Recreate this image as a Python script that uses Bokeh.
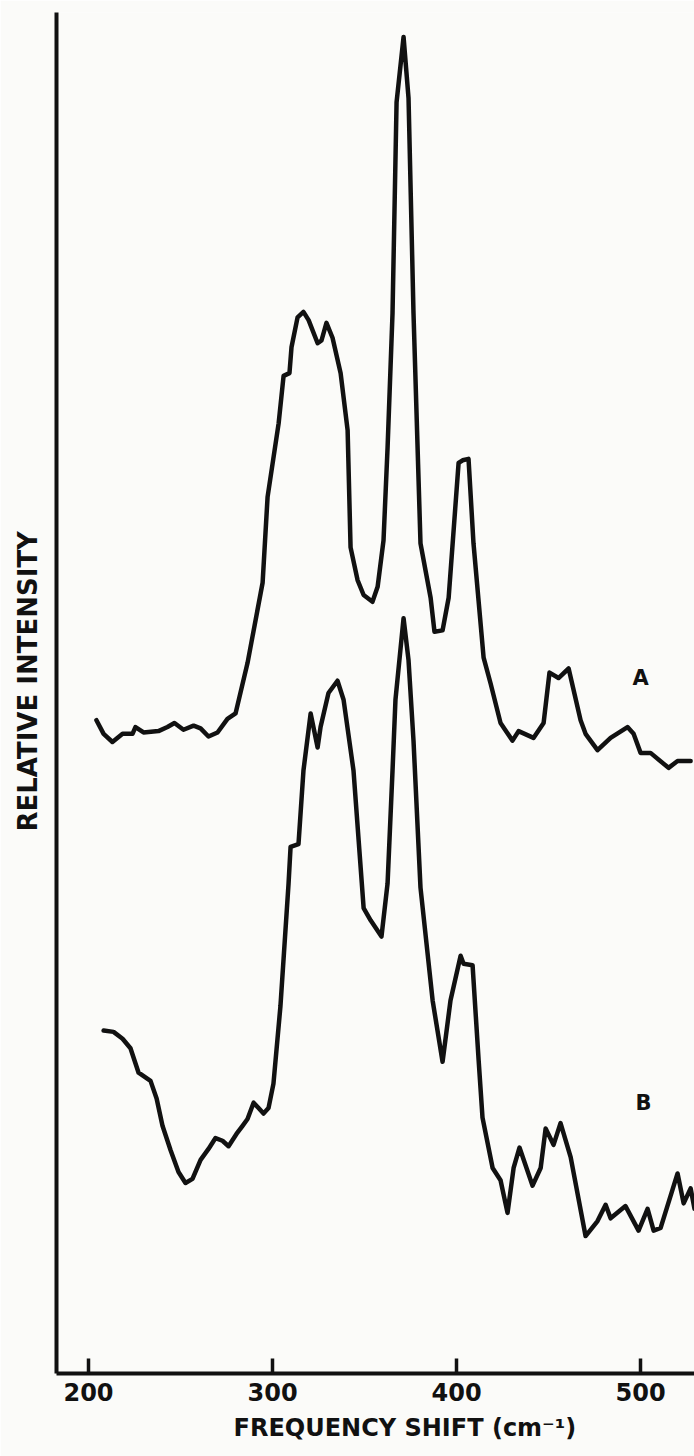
from bokeh.plotting import figure
from bokeh.models import Label, FixedTicker, Range1d, Title
from bokeh.embed import file_html
from bokeh.resources import INLINE

# ---------------- data ----------------
freq_a = [204.3, 208.2, 213.0, 218.5, 223.9, 225.5, 229.9, 238.0, 242.9, 246.7,
          251.6, 257.1, 260.9, 265.2, 270.1, 275.5, 279.9, 286.4, 294.6, 297.3,
          303.3, 306.0, 309.2, 310.3, 313.6, 316.8, 319.6, 324.5, 326.6, 329.3,
          332.6, 337.0, 340.8, 342.4, 346.2, 349.5, 354.3, 357.1, 360.3, 362.5,
          365.2, 367.4, 371.2, 373.9, 376.6, 380.4, 385.9, 388.0, 392.4, 395.7,
          401.1, 403.3, 406.5, 409.2, 414.7, 418.5, 423.9, 430.4, 433.7, 441.8,
          447.3, 450.5, 455.4, 460.9, 467.4, 470.1, 476.6, 483.7, 492.9, 496.2,
          500.0, 505.4, 515.2, 520.1, 527.2]
int_a = [48.0, 47.0, 46.4, 47.0, 47.0, 47.5, 47.1, 47.2, 47.5, 47.8,
         47.3, 47.6, 47.4, 46.8, 47.1, 48.1, 48.5, 52.2, 58.1, 64.4,
         69.8, 73.3, 73.5, 75.4, 77.6, 78.0, 77.4, 75.7, 75.9, 77.2,
         76.1, 73.5, 69.3, 60.7, 58.3, 57.2, 56.7, 57.8, 61.2, 68.0,
         77.9, 93.4, 98.2, 93.7, 77.9, 61.0, 57.0, 54.5, 54.6, 57.0,
         66.9, 67.1, 67.2, 61.0, 52.6, 50.7, 47.8, 46.5, 47.2, 46.7,
         47.8, 51.5, 51.1, 51.8, 48.0, 47.0, 45.8, 46.7, 47.5, 47.0,
         45.6, 45.6, 44.5, 45.0, 45.0]

freq_b = [208.2, 213.6, 218.5, 222.8, 227.2, 233.7, 237.0, 240.2, 244.6, 248.9,
          252.7, 256.5, 260.9, 265.2, 269.0, 272.8, 276.1, 280.4, 283.7, 286.4,
          289.7, 292.4, 295.1, 297.8, 300.5, 304.3, 308.7, 309.8, 314.1, 316.8,
          320.7, 324.5, 326.1, 330.4, 335.3, 338.6, 344.0, 349.5, 353.3, 359.2,
          362.5, 365.2, 366.8, 371.2, 373.9, 376.6, 380.4, 387.0, 392.4, 396.7,
          402.2, 403.8, 408.7, 412.0, 414.1, 419.6, 423.9, 427.7, 431.0, 434.2,
          441.3, 445.7, 448.4, 452.7, 456.5, 462.0, 470.1, 476.6, 481.0, 483.7,
          491.8, 498.9, 503.8, 507.1, 510.9, 520.1, 523.4, 527.2, 529.3]
int_b = [25.2, 25.1, 24.6, 23.9, 22.1, 21.5, 20.2, 18.2, 16.4, 14.8,
         14.0, 14.3, 15.7, 16.5, 17.3, 17.1, 16.7, 17.6, 18.2, 18.7,
         19.9, 19.5, 19.1, 19.5, 21.3, 27.0, 36.0, 38.7, 38.9, 44.3,
         48.5, 46.0, 47.5, 50.0, 50.9, 49.5, 44.3, 34.2, 33.3, 32.1,
         36.0, 44.3, 49.5, 55.5, 52.4, 46.5, 35.7, 27.4, 22.9, 27.4,
         30.7, 30.1, 30.0, 23.0, 18.8, 15.1, 14.2, 11.8, 15.1, 16.6,
         13.8, 15.1, 18.0, 16.8, 18.4, 15.9, 10.1, 11.2, 12.4, 11.4,
         12.3, 10.5, 12.1, 10.5, 10.7, 14.7, 12.5, 13.6, 12.1]

x_ticks = [200, 300, 400, 500]
series_names = ["A", "B"]
x_title = "FREQUENCY SHIFT (cm\u207b\u00b9)"
y_title = "RELATIVE INTENSITY"

# ---------------- styling / layout ----------------
FONT = "DejaVu Sans"
INK = "#111111"
PAPER = "#fbfbf9"
name_x = [500.0, 501.6]
name_y = [51.1, 19.9]

p = figure(width=694, height=1456,
           x_range=Range1d(182.6, 529.3), y_range=Range1d(0, 100),
           output_backend="svg", toolbar_location=None,
           min_border_left=56, min_border_right=0,
           min_border_top=12, min_border_bottom=83)
p.grid.visible = False
p.outline_line_color = None
p.background_fill_color = PAPER
p.border_fill_color = PAPER

p.line(freq_a, int_a, line_width=4.5, line_color=INK, line_join="round", line_cap="round")
p.line(freq_b, int_b, line_width=4.5, line_color=INK, line_join="round", line_cap="round")

# x axis
xa = p.xaxis[0]
xa.ticker = FixedTicker(ticks=x_ticks)
xa.major_tick_in = 15
xa.major_tick_out = 0
xa.minor_tick_in = 0
xa.minor_tick_out = 0
xa.major_tick_line_width = 3.5
xa.major_tick_line_color = INK
xa.axis_line_width = 4
xa.axis_line_color = INK
xa.major_label_text_font = FONT
xa.major_label_text_font_style = "bold"
xa.major_label_text_font_size = "24px"
xa.major_label_text_color = INK
xa.major_label_standoff = 9

# y axis (plain line, no ticks); its title is a side Title placed like the reference
ya = p.yaxis[0]
ya.ticker = FixedTicker(ticks=[])
ya.major_tick_in = 0
ya.major_tick_out = 0
ya.minor_tick_in = 0
ya.minor_tick_out = 0
ya.major_label_standoff = 0
ya.axis_line_width = 4
ya.axis_line_color = INK

p.add_layout(Title(text=y_title, align="left", offset=542, vertical_align="top",
                   standoff=24, text_font=FONT, text_font_style="bold",
                   text_font_size="26px", text_color=INK), "left")

# x title, placed right of centre like the reference
p.add_layout(Title(text=x_title, align="left", offset=177, vertical_align="bottom",
                   standoff=16, text_font=FONT, text_font_style="bold",
                   text_font_size="24px", text_color=INK), "below")

for nm, lx, ly in zip(series_names, name_x, name_y):
    p.add_layout(Label(x=lx, y=ly, text=nm, text_align="center",
                       text_baseline="middle", text_font=FONT,
                       text_font_style="bold", text_font_size="21px",
                       text_color=INK))

open("out.html", "w").write(file_html(p, INLINE))
